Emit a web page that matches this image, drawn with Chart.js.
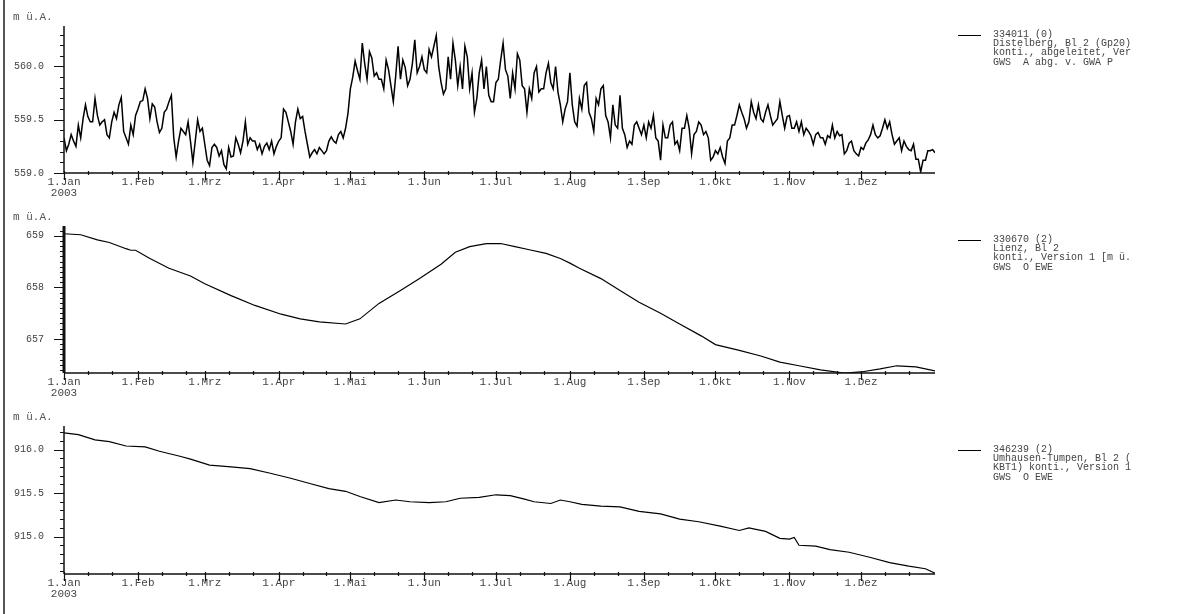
<!DOCTYPE html>
<html>
<head>
<meta charset="utf-8">
<script src="https://cdn.jsdelivr.net/npm/chart.js@4.4.1/dist/chart.umd.min.js"></script>
<style>
  body { margin: 0; width: 1190px; height: 614px; overflow: hidden; background: #fff; position: relative; font-family: 'Liberation Mono', monospace; }
  canvas { position: absolute; left: 0; }
  .frame { position: absolute; left: 3px; top: 0; width: 1.5px; height: 614px; background: #555; }
  .unit { position: absolute; left: 13px; font-size: 11px; line-height: 11px; color: #555; }
  .key { position: absolute; left: 958px; width: 23px; height: 1px; background: #000; }
  .legend { position: absolute; left: 993px; font-size: 10px; line-height: 9.2px; color: #444; white-space: pre; }
</style>
</head>
<body>
<div class="frame"></div>

<canvas id="c1" width="1190" height="200" style="top:0"></canvas>
<canvas id="c2" width="1190" height="200" style="top:200px"></canvas>
<canvas id="c3" width="1190" height="214" style="top:400px"></canvas>

<div class="unit" style="top:12px">m ü.A.</div>
<div class="unit" style="top:212px">m ü.A.</div>
<div class="unit" style="top:412px">m ü.A.</div>

<div class="key" style="top:35px"></div>
<div class="legend" style="top:30px">334011 (0)
Distelberg, Bl 2 (Gp20)
konti., abgeleitet, Ver
GWS  A abg. v. GWA P</div>

<div class="key" style="top:240px"></div>
<div class="legend" style="top:235px">330670 (2)
Lienz, Bl 2
konti., Version 1 [m ü.
GWS  O EWE</div>

<div class="key" style="top:450px"></div>
<div class="legend" style="top:445px">346239 (2)
Umhausen-Tumpen, Bl 2 (
KBT1) konti., Version 1
GWS  O EWE</div>

<script>
const monthDays = [0, 31, 59, 90, 120, 151, 181, 212, 243, 273, 304, 334];
const monthLabels = ['1.Jan', '1.Feb', '1.Mrz', '1.Apr', '1.Mai', '1.Jun', '1.Jul', '1.Aug', '1.Sep', '1.Okt', '1.Nov', '1.Dez'];
const yearLabel = '2003';

// 334011 Distelberg - daily levels, day 0 = 1.Jan
const levels334011 = [
  559.33, 559.21, 559.27, 559.36, 559.30, 559.25, 559.45, 559.33, 559.51, 559.64,
  559.53, 559.48, 559.48, 559.70, 559.54, 559.45, 559.48, 559.50, 559.36, 559.33,
  559.48, 559.57, 559.51, 559.64, 559.71, 559.39, 559.33, 559.27, 559.45, 559.36,
  559.54, 559.60, 559.67, 559.68, 559.79, 559.70, 559.51, 559.65, 559.62, 559.48,
  559.38, 559.42, 559.57, 559.60, 559.67, 559.73, 559.33, 559.15, 559.30, 559.42,
  559.39, 559.36, 559.48, 559.30, 559.10, 559.30, 559.50, 559.39, 559.42, 559.27,
  559.12, 559.07, 559.24, 559.27, 559.24, 559.16, 559.21, 559.08, 559.04, 559.24,
  559.15, 559.16, 559.33, 559.27, 559.19, 559.30, 559.48, 559.27, 559.33, 559.30,
  559.30, 559.22, 559.27, 559.18, 559.25, 559.28, 559.22, 559.30, 559.18, 559.25,
  559.30, 559.33, 559.60, 559.57, 559.48, 559.39, 559.27, 559.48, 559.60, 559.51,
  559.53, 559.39, 559.27, 559.15, 559.19, 559.22, 559.18, 559.24, 559.21, 559.18,
  559.21, 559.30, 559.34, 559.30, 559.28, 559.36, 559.39, 559.33, 559.42, 559.56,
  559.79, 559.90, 560.05, 559.96, 559.88, 560.22, 560.03, 559.88, 560.14, 560.08,
  559.91, 559.94, 559.88, 559.88, 559.79, 560.06, 559.97, 559.82, 559.67, 559.91,
  560.19, 559.88, 560.06, 559.99, 559.82, 559.88, 560.03, 560.25, 559.94, 560.00,
  560.09, 559.97, 559.94, 560.16, 560.09, 560.19, 560.29, 560.00, 559.85, 559.74,
  559.79, 560.09, 559.88, 560.22, 560.06, 559.82, 560.00, 559.79, 560.19, 560.09,
  559.79, 559.94, 559.57, 559.70, 559.94, 560.06, 559.79, 560.00, 559.73, 559.67,
  559.67, 559.85, 559.88, 560.06, 560.22, 559.97, 559.91, 559.70, 559.94, 559.79,
  560.12, 560.06, 559.82, 559.79, 559.57, 559.79, 559.70, 559.94, 560.00, 559.76,
  559.79, 559.79, 559.94, 560.03, 559.85, 559.79, 560.00, 559.76, 559.64, 559.48,
  559.60, 559.67, 559.94, 559.64, 559.48, 559.44, 559.70, 559.60, 559.82, 559.85,
  559.57, 559.51, 559.39, 559.70, 559.64, 559.79, 559.82, 559.54, 559.48, 559.33,
  559.64, 559.45, 559.42, 559.73, 559.42, 559.36, 559.24, 559.30, 559.27, 559.45,
  559.48, 559.42, 559.36, 559.45, 559.33, 559.48, 559.42, 559.54, 559.33, 559.30,
  559.12, 559.45, 559.33, 559.33, 559.45, 559.48, 559.27, 559.30, 559.21, 559.42,
  559.42, 559.54, 559.42, 559.18, 559.36, 559.39, 559.48, 559.45, 559.36, 559.39,
  559.33, 559.12, 559.15, 559.21, 559.18, 559.24, 559.15, 559.09, 559.30, 559.33,
  559.45, 559.45, 559.54, 559.64, 559.57, 559.51, 559.42, 559.48, 559.67, 559.57,
  559.51, 559.64, 559.51, 559.48, 559.57, 559.64, 559.54, 559.45, 559.48, 559.51,
  559.67, 559.54, 559.42, 559.53, 559.54, 559.42, 559.42, 559.48, 559.39, 559.48,
  559.36, 559.42, 559.39, 559.35, 559.27, 559.36, 559.38, 559.33, 559.33, 559.27,
  559.35, 559.33, 559.45, 559.33, 559.39, 559.35, 559.36, 559.18, 559.21, 559.28,
  559.30, 559.21, 559.18, 559.16, 559.24, 559.22, 559.28, 559.31, 559.36, 559.45,
  559.36, 559.33, 559.35, 559.42, 559.50, 559.42, 559.48, 559.36, 559.27, 559.30,
  559.33, 559.21, 559.30, 559.25, 559.22, 559.21, 559.27, 559.13, 559.13, 559.01,
  559.12, 559.12, 559.21, 559.21, 559.22, 559.19
];

// 330670 Lienz
const days330670 = [0, 7, 14, 19, 26, 28, 30, 36, 44, 53, 59, 70, 80, 91, 99, 107, 118, 124, 132, 141, 149, 158, 164, 170, 177, 183, 189, 195, 202, 208, 212, 216, 225, 233, 241, 250, 258, 267, 273, 283, 292, 300, 308, 317, 327, 334, 342, 349, 357, 365];
const levels330670 = [659.04, 659.02, 658.92, 658.87, 658.75, 658.72, 658.72, 658.56, 658.37, 658.22, 658.07, 657.84, 657.65, 657.48, 657.39, 657.33, 657.29, 657.39, 657.69, 657.94, 658.17, 658.45, 658.68, 658.79, 658.85, 658.85, 658.79, 658.73, 658.66, 658.56, 658.47, 658.37, 658.17, 657.94, 657.71, 657.50, 657.29, 657.06, 656.89, 656.78, 656.67, 656.55, 656.48, 656.40, 656.34, 656.36, 656.42, 656.48, 656.46, 656.38];

// 346239 Umhausen-Tumpen
const days346239 = [0, 6, 13, 19, 26, 34, 40, 49, 53, 61, 70, 78, 86, 95, 103, 111, 118, 124, 132, 139, 145, 153, 160, 166, 174, 181, 187, 193, 197, 204, 208, 212, 217, 225, 233, 241, 250, 258, 266, 275, 283, 287, 294, 300, 304, 306, 308, 315, 321, 329, 338, 346, 354, 361, 365];
const levels346239 = [916.19, 916.17, 916.11, 916.09, 916.04, 916.03, 915.98, 915.92, 915.89, 915.82, 915.80, 915.78, 915.73, 915.67, 915.61, 915.55, 915.52, 915.46, 915.39, 915.42, 915.40, 915.39, 915.40, 915.44, 915.45, 915.48, 915.47, 915.43, 915.40, 915.38, 915.42, 915.40, 915.37, 915.35, 915.34, 915.29, 915.26, 915.20, 915.17, 915.12, 915.07, 915.10, 915.06, 914.98, 914.97, 914.99, 914.90, 914.89, 914.85, 914.82, 914.76, 914.70, 914.66, 914.63, 914.58];

const minorDays = monthDays.flatMap(d => [d + 10, d + 20]);
const FONT = "'Liberation Mono', monospace";

// axis lines and tick marks, drawn the way the source plot does them
const tickMarks = {
  id: 'tickMarks',
  afterDraw(chart, args, opts) {
    const { ctx, chartArea: a, scales: { x, y } } = chart;
    ctx.save();
    ctx.strokeStyle = '#111';
    ctx.lineWidth = 1.2;
    ctx.beginPath();
    x.ticks.forEach(t => {
      const px = Math.round(x.getPixelForValue(t.value)) + 0.5;
      const major = monthDays.includes(t.value);
      ctx.moveTo(px, a.bottom - 2);
      ctx.lineTo(px, a.bottom + (major ? 7 : 2));
    });
    y.ticks.forEach(t => {
      const py = Math.round(y.getPixelForValue(t.value)) + 0.5;
      const major = t.label !== '';
      ctx.moveTo(a.left, py);
      ctx.lineTo(a.left - (major ? 10 : 4), py);
    });
    ctx.stroke();
    ctx.lineWidth = 1.5;
    ctx.beginPath();
    ctx.moveTo(a.left, a.bottom);
    ctx.lineTo(a.right, a.bottom);
    ctx.stroke();
    ctx.lineWidth = opts.yAxisWidth;
    ctx.beginPath();
    ctx.moveTo(a.left, a.top);
    ctx.lineTo(a.left, a.bottom);
    ctx.stroke();
    ctx.restore();
  }
};

function makePanel(id, days, values, yMin, yMax, yFirst, majorEvery, decimals, xHeight, yAxisWidth, lineWidth) {
  new Chart(document.getElementById(id), {
    type: 'line',
    data: {
      datasets: [{
        data: values.map((v, i) => ({ x: days[i], y: v })),
        borderColor: '#000',
        borderWidth: lineWidth,
        pointRadius: 0,
        tension: 0
      }]
    },
    options: {
      responsive: false,
      animation: false,
      devicePixelRatio: 1,
      layout: { padding: { top: 23, right: 255, left: 0, bottom: 0 } },
      plugins: { legend: { display: false }, tooltip: { enabled: false }, tickMarks: { yAxisWidth } },
      scales: {
        x: {
          type: 'linear',
          min: 0,
          max: 365,
          afterFit: s => { s.height = xHeight; },
          afterBuildTicks: s => {
            s.ticks = [...monthDays, ...minorDays].sort((a, b) => a - b).map(v => ({ value: v }));
          },
          grid: { display: false, drawTicks: false },
          border: { display: false },
          ticks: {
            autoSkip: false,
            maxRotation: 0,
            padding: 4,
            color: '#444',
            font: { family: FONT, size: 11, lineHeight: 1.0 },
            callback: v => {
              const i = monthDays.indexOf(v);
              if (i < 0) return '';
              return i === 0 ? [monthLabels[0], yearLabel] : monthLabels[i];
            }
          }
        },
        y: {
          min: yMin,
          max: yMax,
          afterFit: s => { s.width = 64; },
          afterBuildTicks: s => {
            const t = [];
            for (let k = 0; yFirst + k * 0.1 <= yMax + 1e-9; k++) t.push({ value: Math.round((yFirst + k * 0.1) * 10) / 10 });
            s.ticks = t;
          },
          grid: { display: false, drawTicks: false },
          border: { display: false },
          ticks: {
            autoSkip: false,
            padding: 20,
            color: '#444',
            font: { family: FONT, size: 10 },
            callback: v => {
              const r = Math.round(v * 10);
              return r % majorEvery === 0 ? v.toFixed(decimals) : '';
            }
          }
        }
      }
    },
    plugins: [tickMarks]
  });
}

makePanel('c1', levels334011.map((v, i) => i), levels334011, 559.0, 560.38, 559.0, 5, 1, 27, 1.5, 1.5);
makePanel('c2', days330670, levels330670, 656.34, 659.19, 656.4, 10, 0, 27, 3, 1.2);
makePanel('c3', days346239, levels346239, 914.57, 916.27, 914.6, 5, 1, 40, 1.5, 1.2);
</script>
</body>
</html>
